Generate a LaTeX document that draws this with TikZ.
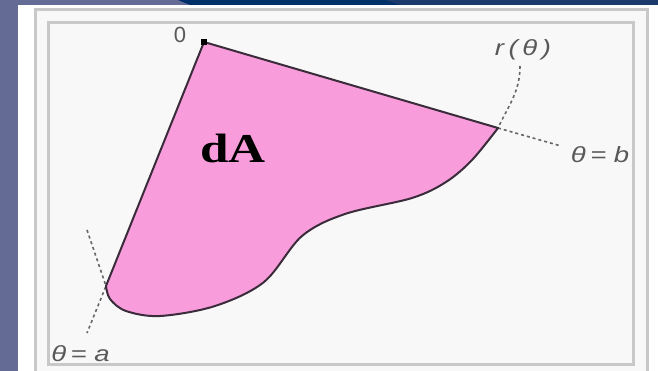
\documentclass[tikz,border=0pt]{standalone}
\usepackage{fontspec}
\setmainfont{Liberation Serif}
\newfontfamily\labelfont{Liberation Sans}
\definecolor{slate}{HTML}{646C96}
\definecolor{navy}{HTML}{00306A}
\definecolor{navylight}{HTML}{1B3B6C}
\definecolor{framegray}{HTML}{C8C8C8}
\definecolor{paper}{HTML}{F8F8F8}
\definecolor{regionpink}{HTML}{F99CDB}
\definecolor{edgedark}{HTML}{3A2C3A}

\begin{document}
\begin{tikzpicture}[x=1pt, y=-1pt]
    % Styles
    \tikzstyle{frame} = [draw=framegray, line width=3pt, fill=paper]
    \tikzstyle{region} = [draw=edgedark, fill=regionpink, line width=2pt, line join=round]
    \tikzstyle{guide} = [draw=black!60, line width=1.6pt, dash pattern=on 3pt off 3pt]
    \tikzstyle{lbl} = [text=black!65, font=\labelfont\itshape\fontsize{22}{22}\selectfont, xscale=1.25, inner sep=0pt]

    \useasboundingbox (0,0) rectangle (658,371);
    \clip (0,0) rectangle (658,371);

    % Background
    \fill[slate] (0,0) rectangle (658,371);
    \fill[navy] (178,0) -- (658,0) -- (658,5) -- (190,5) -- cycle;
    \fill[navylight] (385,0) -- (658,0) -- (658,5) -- (400,5) -- cycle;
    \fill[white] (18,5) rectangle (658,371);
    \path[frame] (35.5,9.5) rectangle (647.5,390);
    \path[frame] (48.5,22.5) rectangle (633,364.5);

    % Points
    \coordinate (O) at (204,42);
    \coordinate (B) at (498,128);
    \coordinate (A) at (106,286);
    \coordinate (bend) at (561,146);
    \coordinate (aend) at (87,333);
    \coordinate (atop) at (87,230);
    \coordinate (rtop) at (520,66);

    % Paths
    \path[guide] (B) -- (bend);
    \path[guide] (rtop) to[out=-90, in=65] (B);
    \path[guide] (atop) -- (A) -- (aend);
    \path[region] (O) -- plot[smooth, tension=0.55] coordinates {(B) (472,160) (446,182) (412,198) (345,214) (302,236) (264,282) (215,306) (160,316) (126,311) (110,299) (A)} -- cycle;

    % Nodes
    \node[fill=black, minimum size=6pt, inner sep=0pt] (odot) at (O) {};
    \node[lbl, xscale=0.8] (zero) at (180,35) {\upshape 0};
    \node[lbl] (rlabel) at (523,50) {r\,(\,θ\,)};
    \node[lbl] (blabel) at (600,155) {θ\,=\hspace{6pt}b};
    \node[lbl, anchor=west] (alabel) at (51,354) {θ\,=\hspace{6pt}a};
    \node[font=\bfseries\fontsize{41}{41}\selectfont, xscale=1.25, inner sep=0pt] (dA) at (233,148) {dA};
\end{tikzpicture}
\end{document}
